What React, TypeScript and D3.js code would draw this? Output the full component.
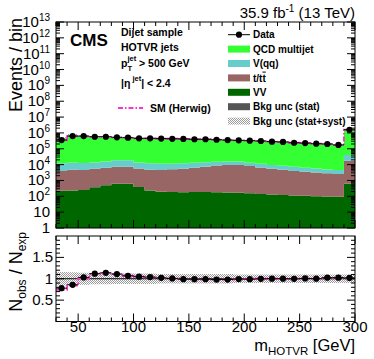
import React from "react";
import * as d3 from "d3";

const binLow = [30, 40, 50, 60, 70, 80, 90, 100, 110, 120, 130, 140, 150, 160, 170, 180, 190, 200, 210, 220, 230, 240, 250, 260, 270, 280, 290];
const binWidth = 10;
const qcd = [443000, 722000, 599000, 500000, 489000, 454000, 450000, 422000, 428000, 417000, 412000, 409000, 389000, 388000, 364000, 346000, 326000, 314000, 298000, 272000, 260000, 233000, 221000, 203000, 190000, 165000, 1510000];
const vqq = [8040, 8400, 8020, 8310, 9540, 11810, 11810, 8050, 7240, 6650, 6470, 6530, 6870, 6880, 6430, 6300, 6300, 4870, 4610, 4060, 3730, 3260, 2760, 2590, 2190, 2060, 22030];
const ttbar = [3760, 4550, 4320, 5120, 5810, 6610, 6610, 5370, 4560, 4380, 4830, 5320, 6120, 7060, 8530, 9380, 9380, 8160, 6470, 5360, 4670, 3870, 3440, 3060, 2720, 2420, 17150];
const vv = [224, 234, 251, 372, 501, 631, 631, 380, 229, 191, 186, 178, 186, 186, 178, 174, 166, 158, 141, 132, 120, 112, 107, 100, 98, 95, 631];
const data = [355000, 631000, 631000, 575000, 575000, 525000, 501000, 457000, 457000, 437000, 427000, 417000, 398000, 398000, 372000, 355000, 339000, 324000, 309000, 282000, 269000, 240000, 229000, 209000, 200000, 174000, 1580000];
const herwigRatio = [0.74, 0.84, 1.01, 1.1, 1.13, 1.11, 1.07, 1.05, 1.03, 1.02, 1.01, 0.99, 0.99, 0.98, 0.98, 0.98, 0.99, 0.99, 1.0, 1.0, 0.99, 1.0, 1.0, 1.0, 1.01, 1.02, 1.02];
const bkgUnc = [0.16, 0.15, 0.14, 0.13, 0.13, 0.12, 0.12, 0.12, 0.12, 0.11, 0.11, 0.11, 0.11, 0.11, 0.11, 0.11, 0.1, 0.1, 0.1, 0.1, 0.1, 0.1, 0.1, 0.1, 0.1, 0.1, 0.1];
const yDecades = [0, 1, 2, 3, 4, 5, 6, 7, 8, 9, 10, 11, 12, 13];
const ratioLabels = [0.5, 1, 1.5];
const xLabels = [50, 100, 150, 200, 250, 300];
const legendItems = [
  { key: "data", label: "Data" },
  { key: "qcd", label: "QCD multijet" },
  { key: "vqq", label: "V(qq)" },
  { key: "ttbar", label: "t/tt" },
  { key: "vv", label: "VV" },
  { key: "stat", label: "Bkg unc (stat)" },
  { key: "syst", label: "Bkg unc (stat+syst)" },
];

const FONT = "'Liberation Sans', Arial, Helvetica, sans-serif";
const colors: Record<string, string> = {
  qcd: "#33ff33",
  vqq: "#66cccc",
  ttbar: "#996666",
  vv: "#006600",
  stat: "#555555",
  pink: "#ff33cc",
};

export default function App() {
  const W = 374, H = 359;
  const L = 56, R = 355, T = 22, B = 228, RT = 236, RB = 321.5;
  const xMin = binLow[0], xMax = binLow[binLow.length - 1] + binWidth;
  const x = d3.scaleLinear().domain([xMin, xMax]).range([L, R]);
  const y = d3.scaleLog().domain([1, 1e13]).range([B, T]);
  const yr = d3.scaleLinear().domain([0, 2]).range([RB, RT]);

  const n = binLow.length;
  const rows = binLow.map((lo, i) => ({ lo, vv: vv[i], ttbar: ttbar[i], vqq: vqq[i], qcd: qcd[i] }));
  const keys = ["vv", "ttbar", "vqq", "qcd"];
  const stack = d3.stack<any>().keys(keys)(rows);
  const total = binLow.map((_, i) => vv[i] + ttbar[i] + vqq[i] + qcd[i]);
  const ratio = data.map((d, i) => d / total[i]);

  const idx = d3.range(n + 1);
  const edgeX = (i: number) => (i < n ? x(binLow[i]) : x(xMax));
  const ci = (i: number) => Math.min(i, n - 1);

  const stackPaths = stack.map((s) => {
    const a = d3
      .area<number>()
      .curve(d3.curveStepAfter)
      .x(edgeX)
      .y0((i) => y(Math.max(1, s[ci(i)][0])))
      .y1((i) => y(s[ci(i)][1]));
    return { key: s.key, d: a(idx) as string };
  });

  const mainUnc = d3
    .area<number>()
    .curve(d3.curveStepAfter)
    .x(edgeX)
    .y0((i) => y(total[ci(i)] * (1 - bkgUnc[ci(i)])))
    .y1((i) => y(total[ci(i)] * (1 + bkgUnc[ci(i)])))(idx) as string;

  const herwigMain = d3
    .line<number>()
    .curve(d3.curveStepAfter)
    .x(edgeX)
    .y((i) => y(total[ci(i)] * herwigRatio[ci(i)]))(idx) as string;

  const ratioUnc = d3
    .area<number>()
    .curve(d3.curveStepAfter)
    .x(edgeX)
    .y0((i) => yr(1 - bkgUnc[ci(i)]))
    .y1((i) => yr(1 + bkgUnc[ci(i)]))(idx) as string;

  const herwigRatioPath = d3
    .line<number>()
    .curve(d3.curveStepAfter)
    .x(edgeX)
    .y((i) => yr(herwigRatio[ci(i)]))(idx) as string;

  const tickEls: JSX.Element[] = [];
  let k = 0;
  const tl = (x1: number, y1: number, x2: number, y2: number) =>
    tickEls.push(<line key={"t" + k++} x1={x1} y1={y1} x2={x2} y2={y2} stroke="#000" strokeWidth={1} />);
  yDecades.forEach((d) => {
    const yy = y(Math.pow(10, d));
    tl(L, yy, L + 8, yy);
    tl(R, yy, R - 8, yy);
    if (d < 13) {
      for (let m = 2; m <= 9; m++) {
        const ym = y(m * Math.pow(10, d));
        tl(L, ym, L + 4, ym);
        tl(R, ym, R - 4, ym);
      }
    }
  });
  for (let v = xMin; v <= xMax; v += 10) {
    const xx = x(v);
    const len = v % 50 === 0 ? 8 : 4;
    tl(xx, B, xx, B - len);
    tl(xx, T, xx, T + len);
    tl(xx, RB, xx, RB - len);
    tl(xx, RT, xx, RT + len);
  }
  for (let j = 1; j < 20; j++) {
    const v = j / 10;
    const yy = yr(v);
    const len = j % 5 === 0 ? 8 : 4;
    tl(L, yy, L + len, yy);
    tl(R, yy, R - len, yy);
  }

  const legX = 228, legW = 22, legTextX = 253;
  const legY0 = 34.7, legDy = 14.4;
  const dash = "5,2,1.5,2";

  return (
    <svg width={W} height={H} style={{ position: "absolute", left: 0, top: 0, background: "#fff" }} fontFamily={FONT}>
      <defs>
        <pattern id="hatch" width="2" height="2" patternUnits="userSpaceOnUse">
          <rect x="0" y="0" width="1" height="1" fill="#9a9a9a" />
          <rect x="1" y="1" width="1" height="1" fill="#9a9a9a" />
        </pattern>
      </defs>
      <rect x={0} y={0} width={W} height={H} fill="#fff" />

      {stackPaths.map((p) => (
        <path key={p.key} d={p.d} fill={colors[p.key]} stroke="none" />
      ))}
      <path d={mainUnc} fill="url(#hatch)" />
      <path d={herwigMain} fill="none" stroke={colors.pink} strokeWidth={1.8} strokeDasharray={dash} />
      {binLow.map((lo, i) => (
        <line key={"dh" + i} x1={x(lo)} x2={x(lo + binWidth)} y1={y(data[i])} y2={y(data[i])} stroke="#000" strokeWidth={1} />
      ))}
      {binLow.map((lo, i) => (
        <circle key={"dp" + i} cx={x(lo + binWidth / 2)} cy={y(data[i])} r={3.1} fill="#000" />
      ))}

      <path d={ratioUnc} fill="url(#hatch)" />
      <line x1={L} x2={R} y1={yr(1)} y2={yr(1)} stroke="#000" strokeWidth={1} />
      <path d={herwigRatioPath} fill="none" stroke={colors.pink} strokeWidth={1.8} strokeDasharray={dash} />
      {binLow.map((lo, i) => (
        <line key={"rh" + i} x1={x(lo)} x2={x(lo + binWidth)} y1={yr(ratio[i])} y2={yr(ratio[i])} stroke="#000" strokeWidth={1} />
      ))}
      {binLow.map((lo, i) => (
        <circle key={"rp" + i} cx={x(lo + binWidth / 2)} cy={yr(ratio[i])} r={3.1} fill="#000" />
      ))}

      <rect x={L} y={T} width={R - L} height={B - T} fill="none" stroke="#000" strokeWidth={1} />
      <rect x={L} y={RT} width={R - L} height={RB - RT} fill="none" stroke="#000" strokeWidth={1} />
      {tickEls}

      {yDecades.map((d) => (
        <text key={"yl" + d} x={50} y={y(Math.pow(10, d)) + 5} textAnchor="end" fontSize={15}>
          {d === 0 ? "1" : d === 1 ? "10" : (
            <>
              <tspan>10</tspan>
              <tspan dy={-6} fontSize={10}>{d}</tspan>
            </>
          )}
        </text>
      ))}
      {ratioLabels.map((v) => (
        <text key={"rl" + v} x={53} y={yr(v) + 5} textAnchor="end" fontSize={15}>
          {String(v)}
        </text>
      ))}
      {xLabels.map((v) => (
        <text key={"xl" + v} x={x(v)} y={332} textAnchor="middle" fontSize={15}>
          {v}
        </text>
      ))}

      <text transform="translate(22,18) rotate(-90)" textAnchor="end" fontSize={18}>
        Events / bin
      </text>
      <text transform="translate(22,232) rotate(-90)" textAnchor="end" fontSize={18}>
        <tspan>N</tspan>
        <tspan dy={4} fontSize={12}>obs</tspan>
        <tspan dy={-4}> / N</tspan>
        <tspan dy={4} fontSize={12}>exp</tspan>
      </text>
      <text x={R} y={351} textAnchor="end" fontSize={16.5}>
        <tspan>m</tspan>
        <tspan dy={4} fontSize={11.5}>HOTVR</tspan>
        <tspan dy={-4}> [GeV]</tspan>
      </text>

      <text x={R} y={18} textAnchor="end" fontSize={15}>
        <tspan>35.9 fb</tspan>
        <tspan dy={-6} fontSize={10}>-1</tspan>
        <tspan dy={6}> (13 TeV)</tspan>
      </text>

      <text x={70} y={46} fontSize={17} fontWeight="bold">CMS</text>
      <g fontSize={10.5} fontWeight="bold">
        <text x={121} y={36}>Dijet sample</text>
        <text x={121} y={51}>HOTVR jets</text>
        <text x={121} y={67}>p</text>
        <text x={127.5} y={61} fontSize={7.5}>jet</text>
        <text x={127.5} y={71} fontSize={7.5}>T</text>
        <text x={139} y={67}>&gt; 500 GeV</text>
        <text x={121} y={87}>
          <tspan>|η</tspan>
          <tspan dy={-6} fontSize={7.5}> jet</tspan>
          <tspan dy={6}>| &lt; 2.4</tspan>
        </text>
        <line x1={118} x2={143} y1={108} y2={108} stroke={colors.pink} strokeWidth={1.8} strokeDasharray={dash} />
        <text x={150} y={112}>SM (Herwig)</text>
      </g>

      <g fontSize={10} fontWeight="bold">
        {legendItems.map((it, j) => {
          const cy = legY0 + j * legDy;
          let sw: JSX.Element;
          if (it.key === "data") {
            sw = (
              <g>
                <line x1={legX} x2={legX + legW} y1={cy} y2={cy} stroke="#000" strokeWidth={1} />
                <circle cx={legX + legW / 2} cy={cy} r={3.1} fill="#000" />
              </g>
            );
          } else if (it.key === "syst") {
            sw = <rect x={legX} y={cy - 3.5} width={legW} height={7} fill="url(#hatch)" />;
          } else {
            sw = <rect x={legX} y={cy - 3.5} width={legW} height={7} fill={colors[it.key]} />;
          }
          return (
            <g key={it.key}>
              {sw}
              {it.key === "ttbar" ? (
                <text x={legTextX} y={cy + 3.7}>
                  <tspan>t/t</tspan>
                  <tspan style={{ textDecoration: "overline" }}>t</tspan>
                </text>
              ) : (
                <text x={legTextX} y={cy + 3.7}>{it.label}</text>
              )}
            </g>
          );
        })}
      </g>
    </svg>
  );
}
